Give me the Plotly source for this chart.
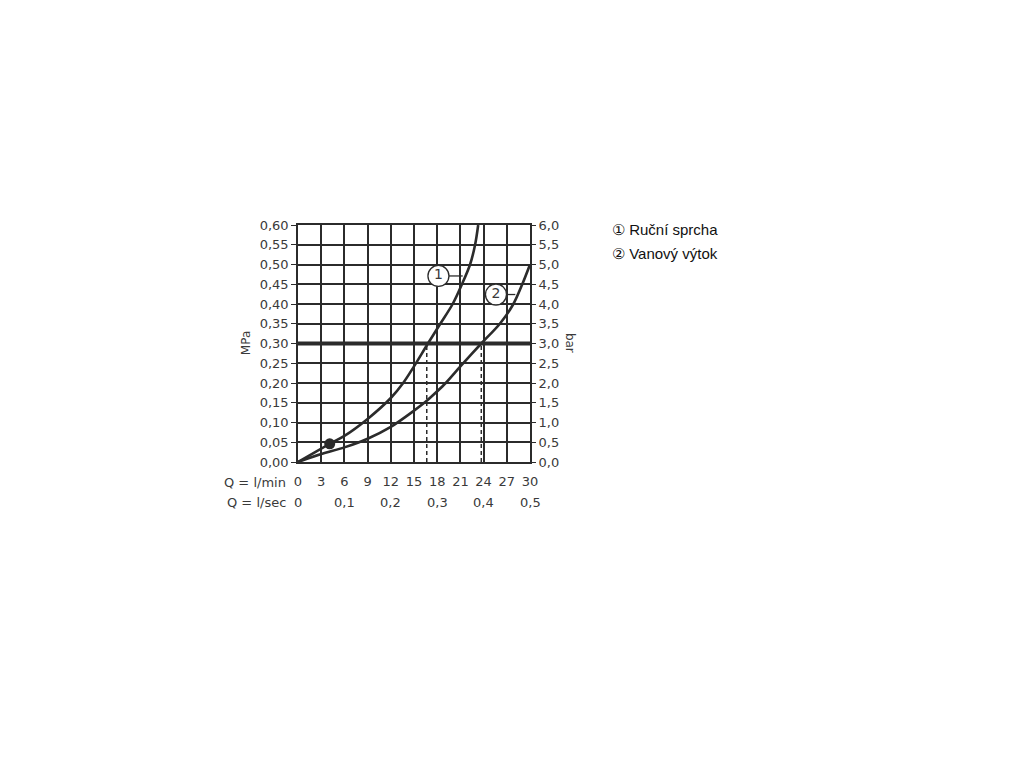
import plotly.graph_objects as go

# ---- data ----
curve1_q = [0, 4.1, 6, 9, 12, 13.6, 15, 16.8, 18.4, 20.0, 21.2, 22.25, 22.9, 23.3]
curve1_p = [0, 0.046, 0.066, 0.109, 0.162, 0.20, 0.242, 0.30, 0.35, 0.40, 0.45, 0.50, 0.55, 0.60]

curve2_q = [0, 3, 6, 9, 12, 15, 16.65, 18, 19.1, 21, 23.7, 26.1, 27.85, 29.0, 30]
curve2_p = [0, 0.02, 0.037, 0.059, 0.089, 0.13, 0.155, 0.179, 0.20, 0.242, 0.30, 0.35, 0.40, 0.45, 0.50]

marker_q = [4.1]
marker_p = [0.046]

ref_pressure = 0.30
op_flows = [16.65, 23.7]

lmin_ticks = [0, 3, 6, 9, 12, 15, 18, 21, 24, 27, 30]
lmin_labels = ["0", "3", "6", "9", "12", "15", "18", "21", "24", "27", "30"]
lsec_pos = [0, 6, 12, 18, 24, 30]
lsec_labels = ["0", "0,1", "0,2", "0,3", "0,4", "0,5"]

mpa_ticks = [0.0, 0.05, 0.10, 0.15, 0.20, 0.25, 0.30, 0.35, 0.40, 0.45, 0.50, 0.55, 0.60]
mpa_labels = ["0,00", "0,05", "0,10", "0,15", "0,20", "0,25", "0,30", "0,35", "0,40",
              "0,45", "0,50", "0,55", "0,60"]
bar_ticks = [0, 0.5, 1, 1.5, 2, 2.5, 3, 3.5, 4, 4.5, 5, 5.5, 6]
bar_labels = ["0,0", "0,5", "1,0", "1,5", "2,0", "2,5", "3,0", "3,5", "4,0", "4,5",
              "5,0", "5,5", "6,0"]

label_ids = ["1", "2"]
label_q = [18.16, 25.6]
label_p = [0.471, 0.424]
leader_q = [[19.5, 21.3], [26.9, 28.1]]

legend_items = ["① Ruční sprcha", "② Vanový výtok"]

INK = "#2b2b2b"
TXT = "#3a3a3a"
FONT = "DejaVu Sans"

fig = go.Figure()

# reference pressure line
fig.add_trace(go.Scatter(x=[0, 30], y=[ref_pressure, ref_pressure], mode="lines",
                         line=dict(color=INK, width=4), hoverinfo="skip"))
# dashed drop lines
for q in op_flows:
    fig.add_trace(go.Scatter(x=[q, q], y=[0, ref_pressure], mode="lines",
                             line=dict(color=INK, width=1.5, dash="4px,3px"), hoverinfo="skip"))

fig.add_trace(go.Scatter(x=curve1_q, y=curve1_p, mode="lines",
                         line=dict(color=INK, width=2.6, shape="spline", smoothing=0.9)))
fig.add_trace(go.Scatter(x=curve2_q, y=curve2_p, mode="lines",
                         line=dict(color=INK, width=2.6, shape="spline", smoothing=0.9)))
fig.add_trace(go.Scatter(x=marker_q, y=marker_p, mode="markers",
                         marker=dict(color=INK, size=11)))

# numbered labels with leaders
for lid, lq, lp, ld in zip(label_ids, label_q, label_p, leader_q):
    fig.add_trace(go.Scatter(x=ld, y=[lp, lp], mode="lines",
                             line=dict(color=INK, width=1.3), hoverinfo="skip"))
    fig.add_trace(go.Scatter(x=[lq], y=[lp], mode="markers+text", text=[lid],
                             textposition="middle center",
                             textfont=dict(family=FONT, size=14, color=TXT),
                             marker=dict(symbol="circle", size=21, color="white",
                                         line=dict(color=INK, width=1.3))))

# secondary axis trace (bar), invisible, drives the right axis scale
fig.add_trace(go.Scatter(x=[0, 30], y=[0, 6], yaxis="y2", mode="lines",
                         line=dict(width=0), hoverinfo="skip"))

fig.update_layout(
    width=1016, height=760,
    margin=dict(l=290, r=494, t=217, b=306),
    paper_bgcolor="white", plot_bgcolor="white",
    showlegend=False,
    xaxis=dict(range=[0, 30], tickvals=lmin_ticks, ticktext=lmin_labels,
               showgrid=True, gridcolor=INK, gridwidth=1.6,
               showline=True, linecolor=INK, linewidth=1.6, mirror=True,
               ticks="outside", ticklen=7, tickcolor="rgba(0,0,0,0)",
               tickfont=dict(family=FONT, size=13, color=TXT), zeroline=False),
    yaxis=dict(range=[0, 0.60], tickvals=mpa_ticks, ticktext=mpa_labels,
               showgrid=True, gridcolor=INK, gridwidth=1.6,
               showline=True, linecolor=INK, linewidth=1.6, mirror=True,
               ticks="outside", ticklen=5, tickcolor=INK, tickwidth=1.3,
               tickfont=dict(family=FONT, size=13, color=TXT), zeroline=False),
    yaxis2=dict(range=[0, 6], overlaying="y", side="right",
                tickvals=bar_ticks, ticktext=bar_labels, showgrid=False,
                ticks="outside", ticklen=5, tickcolor=INK, tickwidth=1.3,
                tickfont=dict(family=FONT, size=13, color=TXT), zeroline=False),
)

ann = []
ann.append(dict(text="Q = l/min", xref="paper", yref="paper", x=0, y=0,
                xanchor="right", yanchor="top", xshift=-10, yshift=-11,
                showarrow=False, font=dict(family=FONT, size=13, color=TXT)))
ann.append(dict(text="Q = l/sec", xref="paper", yref="paper", x=0, y=0,
                xanchor="right", yanchor="top", xshift=-10, yshift=-31,
                showarrow=False, font=dict(family=FONT, size=13, color=TXT)))
for p, t in zip(lsec_pos, lsec_labels):
    ann.append(dict(text=t, xref="x", yref="paper", x=p, y=0, xanchor="center",
                    yanchor="top", yshift=-31, showarrow=False,
                    font=dict(family=FONT, size=13, color=TXT)))
ann.append(dict(text="MPa", xref="paper", yref="paper", x=-0.227, y=0.503,
                xanchor="center", yanchor="middle",
                textangle=-90, showarrow=False, font=dict(family=FONT, size=12, color=TXT)))
ann.append(dict(text="bar", xref="paper", yref="paper", x=1.172, y=0.503,
                xanchor="center", yanchor="middle",
                textangle=90, showarrow=False, font=dict(family=FONT, size=12, color=TXT)))
for i, item in enumerate(legend_items):
    ann.append(dict(text=item, xref="paper", yref="paper", x=1.344, y=0.979 - i * 0.101,
                    xanchor="left", yanchor="middle", showarrow=False,
                    font=dict(family="Liberation Sans", size=15, color="#111111")))
fig.update_layout(annotations=ann)

fig.write_html("out.html")
